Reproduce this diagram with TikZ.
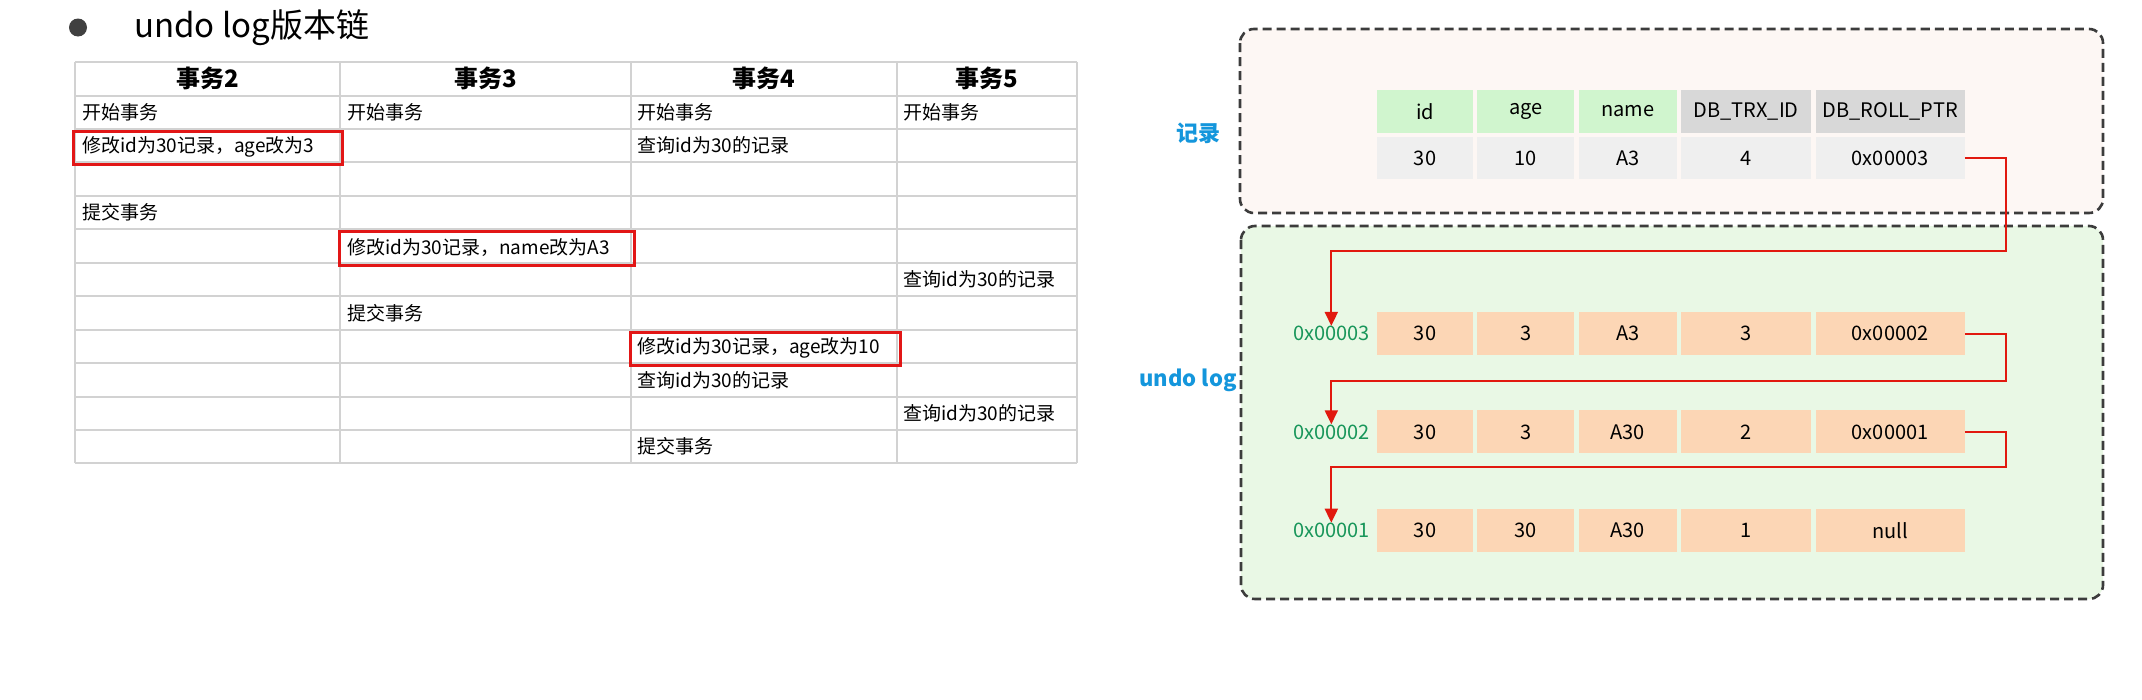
\documentclass[tikz,border=0pt]{standalone}
\usepackage{fontspec}
\setmainfont{Noto Sans CJK SC}
\usepackage{xcolor}
\definecolor{gridgrey}{RGB}{210,210,210}
\definecolor{markred}{RGB}{226,22,22}
\definecolor{hdgreen}{RGB}{208,245,206}
\definecolor{hdgrey}{RGB}{216,216,216}
\definecolor{valgrey}{RGB}{239,239,239}
\definecolor{undopeach}{RGB}{252,214,181}
\definecolor{recfill}{RGB}{253,247,244}
\definecolor{undofill}{RGB}{233,248,229}
\definecolor{lblblue}{RGB}{20,150,220}
\definecolor{addrgreen}{RGB}{24,150,90}
\definecolor{ptrred}{RGB}{225,25,15}
\definecolor{framegrey}{RGB}{60,60,60}
\definecolor{dotgrey}{RGB}{64,64,64}
\usepackage{tikz}
\usetikzlibrary{arrows.meta,positioning}
\tikzset{
  titletext/.style={anchor=west, inner sep=0pt, font=\fontsize{33pt}{38pt}\selectfont},
  tblhead/.style={inner sep=0pt, font=\fontsize{24pt}{28pt}\selectfont\bfseries},
  tblcell/.style={anchor=west, inner sep=0pt, font=\fontsize{19pt}{23pt}\selectfont},
  tblline/.style={draw=gridgrey, line width=2pt},
  redmark/.style={draw=markred, line width=3pt},
  fldhd/.style={fill=hdgreen, minimum height=43pt, inner sep=0pt, font=\fontsize{20pt}{24pt}\selectfont},
  dbhd/.style={fldhd, fill=hdgrey},
  valcell/.style={fldhd, fill=valgrey, minimum height=42pt},
  undocell/.style={fldhd, fill=undopeach},
  addrlbl/.style={text=addrgreen, inner sep=0pt, font=\fontsize{20pt}{24pt}\selectfont},
  sidelbl/.style={anchor=east, text=lblblue, inner sep=0pt, font=\fontsize{22pt}{26pt}\selectfont\bfseries},
  recframe/.style={draw=framegrey, fill=recfill, line width=2.6pt, dash pattern=on 9pt off 5pt, rounded corners=14pt},
  undoframe/.style={recframe, fill=undofill},
  ptrarr/.style={-{Triangle[width=13pt,length=14pt]}, draw=ptrred, line width=2pt}
}

\begin{document}
\begin{tikzpicture}[x=1pt, y=-1pt, node distance=4pt]
  \fill[white] (0,0) rectangle (2142,699);
  \useasboundingbox (0,0) rectangle (2142,699);

  % title
  \fill[dotgrey] (78,27.5) circle (9);
  \node[titletext] (title) at (134,28) {undo log版本链};

  % transaction table
  \draw[tblline] (75,62) -- (1077,62) (75,95.5) -- (1077,95.5) (75,128.9) -- (1077,128.9)
    (75,162.4) -- (1077,162.4) (75,195.8) -- (1077,195.8) (75,229.3) -- (1077,229.3)
    (75,262.7) -- (1077,262.7) (75,296.2) -- (1077,296.2) (75,329.6) -- (1077,329.6)
    (75,363.1) -- (1077,363.1) (75,396.5) -- (1077,396.5) (75,430) -- (1077,430)
    (75,463.4) -- (1077,463.4);
  \draw[tblline] (75,62) -- (75,463.4) (340,62) -- (340,463.4) (631,62) -- (631,463.4)
    (897,62) -- (897,463.4) (1077,62) -- (1077,463.4);

  \node[tblhead] (tx2) at (207.5,78.7) {事务2};
  \node[tblhead] (tx3) at (485.5,78.7) {事务3};
  \node[tblhead] (tx4) at (764,78.7) {事务4};
  \node[tblhead] (tx5) at (987,78.7) {事务5};

  \node[tblcell] (b2) at (82,112.2) {开始事务};
  \node[tblcell] (b3) at (347,112.2) {开始事务};
  \node[tblcell] (b4) at (637,112.2) {开始事务};
  \node[tblcell] (b5) at (903,112.2) {开始事务};
  \node[tblcell] (m2) at (82,147) {修改id为30记录，age改为3};
  \node[tblcell] (q4a) at (637,145.6) {查询id为30的记录};
  \node[tblcell] (c2) at (82,212.5) {提交事务};
  \node[tblcell] (m3) at (347,247.5) {修改id为30记录，name改为A3};
  \node[tblcell] (q5a) at (903,279.4) {查询id为30的记录};
  \node[tblcell] (c3) at (347,312.9) {提交事务};
  \node[tblcell] (m4) at (637,347.8) {修改id为30记录，age改为10};
  \node[tblcell] (q4b) at (637,379.8) {查询id为30的记录};
  \node[tblcell] (q5b) at (903,413.2) {查询id为30的记录};
  \node[tblcell] (c4) at (637,446.7) {提交事务};

  \draw[redmark] (73,131.4) rectangle (342,164.9);
  \draw[redmark] (339,231.8) rectangle (634,265.2);
  \draw[redmark] (630,332.1) rectangle (900,365.6);

  % record and undo log
  \draw[recframe] (1240,29) rectangle (2103,213);
  \draw[undoframe] (1241,226) rectangle (2103,599);
  \node[sidelbl] (reclbl) at (1221,133) {记录};
  \node[sidelbl] (undolbl) at (1237,380) {undo log};

  \node[fldhd, minimum width=96pt] (hid) at (1425,111.5) {id};
  \node[fldhd, minimum width=97pt, right=of hid] (hage) {age};
  \node[fldhd, minimum width=98pt, right=of hage] (hname) {name};
  \node[dbhd, minimum width=130pt, right=of hname] (htrx) {DB\_TRX\_ID};
  \node[dbhd, minimum width=149pt, right=of htrx] (hroll) {DB\_ROLL\_PTR};
  \node[valcell, minimum width=96pt, below=of hid] (rid) {30};
  \node[valcell, minimum width=97pt, below=of hage] (rage) {10};
  \node[valcell, minimum width=98pt, below=of hname] (rname) {A3};
  \node[valcell, minimum width=130pt, below=of htrx] (rtrx) {4};
  \node[valcell, minimum width=149pt, below=of hroll] (rroll) {0x00003};

  \node[undocell, minimum width=96pt] (u3id) at (1425,333.5) {30};
  \node[undocell, minimum width=97pt, right=of u3id] (u3age) {3};
  \node[undocell, minimum width=98pt, right=of u3age] (u3name) {A3};
  \node[undocell, minimum width=130pt, right=of u3name] (u3trx) {3};
  \node[undocell, minimum width=149pt, right=of u3trx] (u3roll) {0x00002};
  \node[addrlbl, left=7pt of u3id] (a3) {0x00003};

  \node[undocell, minimum width=96pt, below=55pt of u3id] (u2id) {30};
  \node[undocell, minimum width=97pt, right=of u2id] (u2age) {3};
  \node[undocell, minimum width=98pt, right=of u2age] (u2name) {A30};
  \node[undocell, minimum width=130pt, right=of u2name] (u2trx) {2};
  \node[undocell, minimum width=149pt, right=of u2trx] (u2roll) {0x00001};
  \node[addrlbl, left=7pt of u2id] (a2) {0x00002};

  \node[undocell, minimum width=96pt, below=55pt of u2id] (u1id) {30};
  \node[undocell, minimum width=97pt, right=of u1id] (u1age) {30};
  \node[undocell, minimum width=98pt, right=of u1age] (u1name) {A30};
  \node[undocell, minimum width=130pt, right=of u1name] (u1trx) {1};
  \node[undocell, minimum width=149pt, right=of u1trx] (u1roll) {null};
  \node[addrlbl, left=7pt of u1id] (a1) {0x00001};

  \draw[ptrarr] (rroll.east) -- ++(41,0) -- ++(0,93) -| (a3.north);
  \draw[ptrarr] (u3roll.east) -- ++(41,0) -- ++(0,47.5) -| (a2.north);
  \draw[ptrarr] (u2roll.east) -- ++(41,0) -- ++(0,35.5) -| (a1.north);
\end{tikzpicture}
\end{document}
